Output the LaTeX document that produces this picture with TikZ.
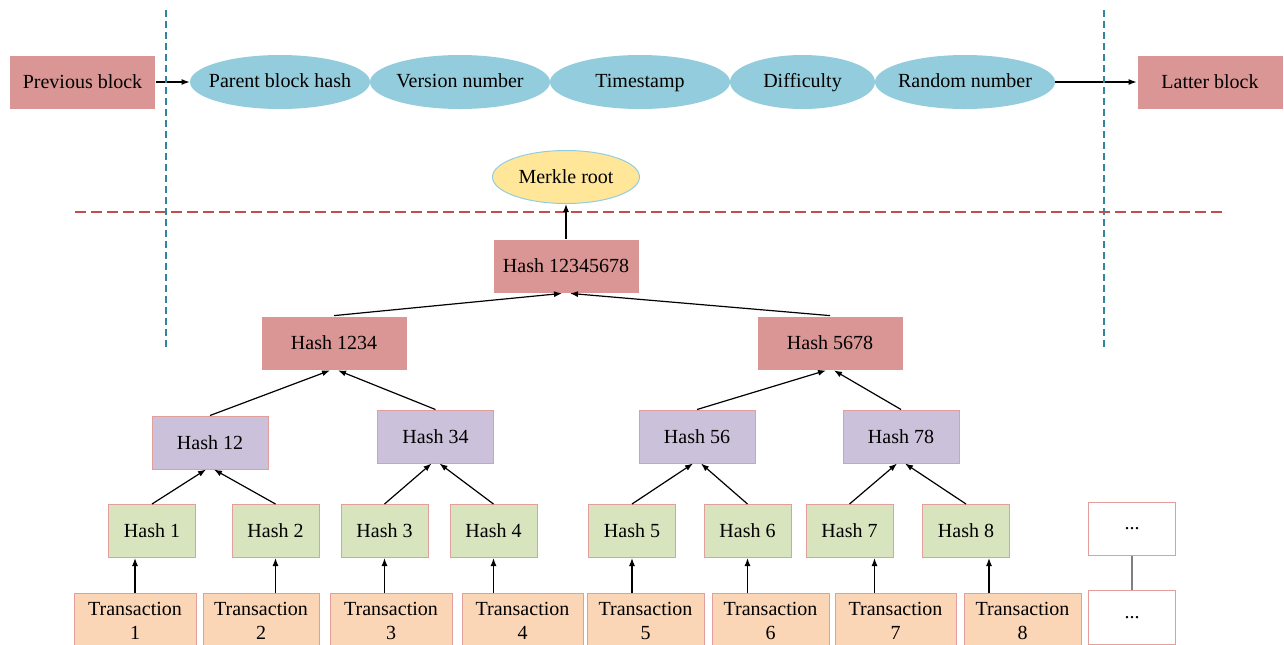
\documentclass[tikz,border=0pt]{standalone}
\usepackage{fontspec}
\setmainfont{Liberation Serif}
\usetikzlibrary{shapes.geometric,arrows.meta}

\definecolor{blockred}{HTML}{D99694}
\definecolor{fieldblue}{HTML}{93CDDD}
\definecolor{rootyellow}{HTML}{FFE699}
\definecolor{midpurple}{HTML}{CCC1DA}
\definecolor{leafgreen}{HTML}{D7E4BD}
\definecolor{txpeach}{HTML}{FAD5B6}
\definecolor{edgepink}{HTML}{E29E9B}
\definecolor{septeal}{HTML}{31859C}
\definecolor{sepred}{HTML}{C0504D}

\begin{document}
\begin{tikzpicture}[x=0.5pt, y=-0.5pt]

\tikzstyle{blockbox}=[fill=blockred, draw=white, inner sep=0pt, minimum width=73pt, minimum height=27pt]
\tikzstyle{field}=[ellipse, fill=fieldblue, inner sep=0pt, text height=7pt, text depth=2pt, minimum width=90pt, minimum height=27pt]
\tikzstyle{hashbox}=[draw=edgepink, line width=0.5pt, inner sep=0pt, minimum height=26.5pt]
\tikzstyle{txbox}=[hashbox, fill=txpeach, align=center, anchor=north, minimum height=27pt]
\tikzstyle{link}=[-{Latex[length=4pt,width=3pt]}, line width=0.6pt]

\useasboundingbox (0,0) rectangle (1284,644);

% block header
\node[blockbox] (prev_block) at (82.5,82) {Previous block};
\node[field] (parent_hash) at (280,82) {\makebox[0pt]{Parent block hash}};
\node[field] (version) at (460,82) {\makebox[0pt]{Version number}};
\node[field] (timestamp) at (640,82) {\makebox[0pt]{Timestamp}};
\node[field, minimum width=72.5pt] (difficulty) at (802.5,82) {\makebox[0pt]{Difficulty}};
\node[field] (random) at (965,82) {\makebox[0pt]{Random number}};
\node[blockbox] (latter_block) at (1210,82) {Latter block};

\draw[link] (prev_block) -- (parent_hash);
\draw[link] (random) -- (latter_block);

% separators
\draw[septeal, line width=0.6pt, dash pattern=on 3.5pt off 2pt] (166,10) -- (166,348);
\draw[septeal, line width=0.6pt, dash pattern=on 3.5pt off 2pt] (1104,10) -- (1104,348);
\draw[sepred, line width=0.6pt, dash pattern=on 5.5pt off 2.5pt] (75,212) -- (1225,212);

% merkle tree
\node[ellipse, fill=rootyellow, draw=fieldblue, line width=0.5pt, inner sep=0pt, minimum width=73.5pt, minimum height=26.5pt] (merkle_root) at (566,177) {\makebox[0pt]{Merkle root}};
\node[blockbox] (hash_12345678) at (566,266) {Hash 12345678};
\node[blockbox] (hash_1234) at (334,343) {Hash 1234};
\node[blockbox] (hash_5678) at (830,343) {Hash 5678};

\node[hashbox, fill=midpurple, minimum width=58pt] (hash_12) at (210,442.5) {Hash 12};
\node[hashbox, fill=midpurple, minimum width=58pt] (hash_34) at (435.5,436.5) {Hash 34};
\node[hashbox, fill=midpurple, minimum width=58pt] (hash_56) at (697,436.5) {Hash 56};
\node[hashbox, fill=midpurple, minimum width=58pt] (hash_78) at (901,436.5) {Hash 78};

\node[hashbox, fill=leafgreen, minimum width=43.5pt] (hash_1) at (152,531) {Hash 1};
\node[hashbox, fill=leafgreen, minimum width=43.5pt] (hash_2) at (275.5,531) {Hash 2};
\node[hashbox, fill=leafgreen, minimum width=43.5pt] (hash_3) at (384.5,531) {Hash 3};
\node[hashbox, fill=leafgreen, minimum width=43.5pt] (hash_4) at (493.5,531) {Hash 4};
\node[hashbox, fill=leafgreen, minimum width=43.5pt] (hash_5) at (632,531) {Hash 5};
\node[hashbox, fill=leafgreen, minimum width=43.5pt] (hash_6) at (747.5,531) {Hash 6};
\node[hashbox, fill=leafgreen, minimum width=43.5pt] (hash_7) at (849.5,531) {Hash 7};
\node[hashbox, fill=leafgreen, minimum width=43.5pt] (hash_8) at (966,531) {Hash 8};
\node[hashbox, fill=white, minimum width=43.5pt] (hash_more) at (1132,528.5) {...};

\node[txbox, minimum width=61pt] (tx_1) at (135,593) {Transaction\\1};
\node[txbox, minimum width=58pt] (tx_2) at (261,593) {Transaction\\2};
\node[txbox, minimum width=61pt] (tx_3) at (391,593) {Transaction\\3};
\node[txbox, minimum width=60.5pt] (tx_4) at (522.5,593) {Transaction\\4};
\node[txbox, minimum width=58.5pt] (tx_5) at (645.5,593) {Transaction\\5};
\node[txbox, minimum width=58.5pt] (tx_6) at (770.5,593) {Transaction\\6};
\node[txbox, minimum width=60.5pt] (tx_7) at (895.5,593) {Transaction\\7};
\node[txbox, minimum width=58.5pt] (tx_8) at (1022.5,593) {Transaction\\8};
\node[hashbox, fill=white, anchor=north, minimum width=43.5pt, minimum height=27pt] (tx_more) at (1132,590) {...};

\draw[link] (hash_12345678) -- (merkle_root);
\draw[link] (hash_1234.north) -- ([xshift=-2pt]hash_12345678.south);
\draw[link] (hash_5678.north) -- ([xshift=2pt]hash_12345678.south);
\draw[link] (hash_12.north) -- ([xshift=-2pt]hash_1234.south);
\draw[link] (hash_34.north) -- ([xshift=2pt]hash_1234.south);
\draw[link] (hash_56.north) -- ([xshift=-2pt]hash_5678.south);
\draw[link] (hash_78.north) -- ([xshift=2pt]hash_5678.south);
\draw[link] (hash_1.north) -- ([xshift=-2pt]hash_12.south);
\draw[link] (hash_2.north) -- ([xshift=2pt]hash_12.south);
\draw[link] (hash_3.north) -- ([xshift=-2pt]hash_34.south);
\draw[link] (hash_4.north) -- ([xshift=2pt]hash_34.south);
\draw[link] (hash_5.north) -- ([xshift=-2pt]hash_56.south);
\draw[link] (hash_6.north) -- ([xshift=2pt]hash_56.south);
\draw[link] (hash_7.north) -- ([xshift=-2pt]hash_78.south);
\draw[link] (hash_8.north) -- ([xshift=2pt]hash_78.south);

\draw[link] (tx_1.north) -- (tx_1.north |- hash_1.south);
\draw[link] (tx_2.north -| hash_2) -- (hash_2.south);
\draw[link] (tx_3.north -| hash_3) -- (hash_3.south);
\draw[link] (tx_4.north -| hash_4) -- (hash_4.south);
\draw[link] (tx_5.north -| hash_5) -- (hash_5.south);
\draw[link] (tx_6.north -| hash_6) -- (hash_6.south);
\draw[link] ([xshift=12.5pt]tx_7.north -| hash_7) -- ([xshift=12.5pt]hash_7.south);
\draw[link] ([xshift=11.5pt]tx_8.north -| hash_8) -- ([xshift=11.5pt]hash_8.south);
\draw[gray, line width=0.6pt] (hash_more) -- (tx_more);

\end{tikzpicture}
\end{document}
